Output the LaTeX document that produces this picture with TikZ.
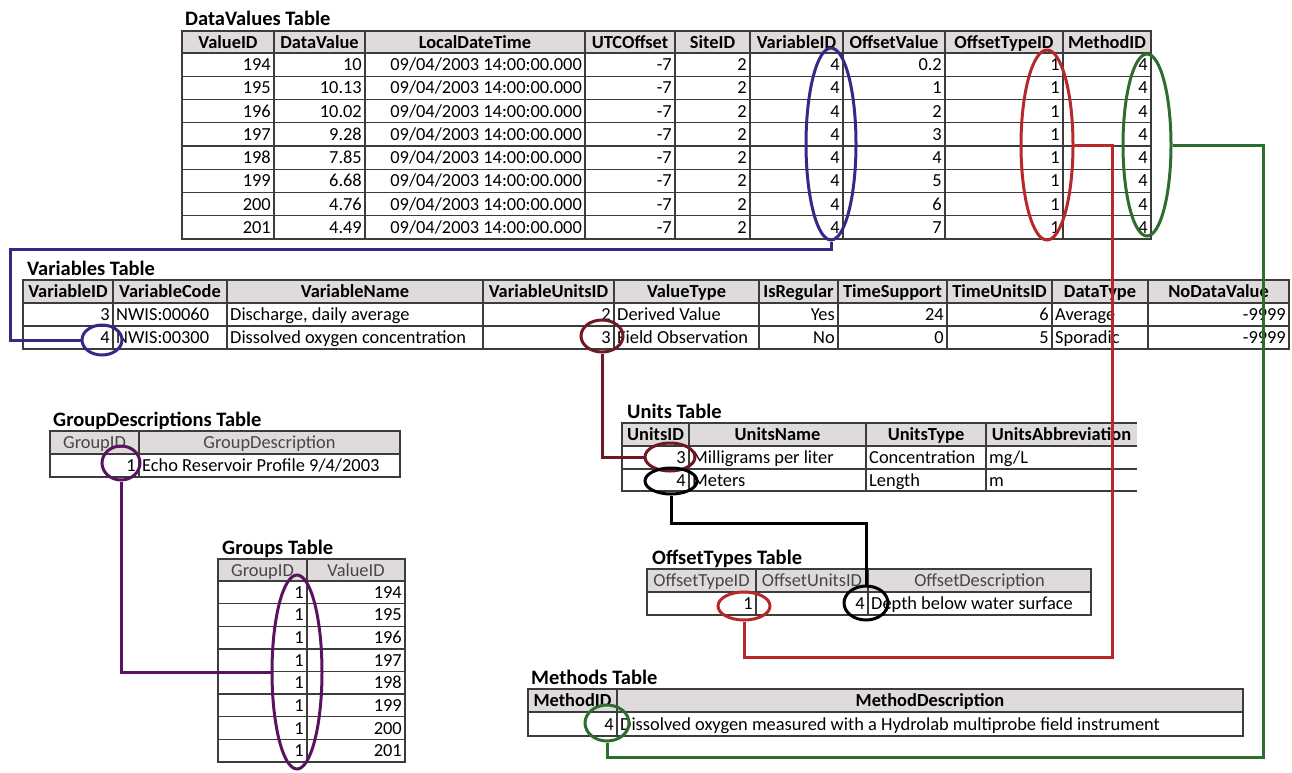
\documentclass[tikz,border=0pt]{standalone}
\usepackage{fontspec}
\setmainfont{Carlito}
\usetikzlibrary{shapes.geometric}
\definecolor{hdrfill}{RGB}{222,219,218}
\definecolor{gridc}{RGB}{60,60,60}
\definecolor{hdrtxt}{RGB}{70,70,70}
\definecolor{cIndigo}{RGB}{58,38,135}
\definecolor{cMaroon}{RGB}{110,25,35}
\definecolor{cRed}{RGB}{185,40,40}
\definecolor{cGreen}{RGB}{45,110,45}
\definecolor{cPurple}{RGB}{90,20,95}
\tikzset{
 hdr/.style={fill=hdrfill},
 inner/.style={draw=gridc, line width=1.3pt},
 outer/.style={draw=gridc, line width=2pt},
 cellR/.style={anchor=base east, inner sep=0pt, font=\fontsize{18.4}{22}\selectfont},
 cellL/.style={anchor=base west, inner sep=0pt, font=\fontsize{18.4}{22}\selectfont},
 hb/.style={anchor=base, inner sep=0pt, font=\fontsize{18.4}{22}\selectfont\bfseries},
 hr/.style={anchor=base, inner sep=0pt, text=hdrtxt, font=\fontsize{18.4}{22}\selectfont},
 ttl/.style={anchor=base west, inner sep=0pt, font=\fontsize{20.5}{24}\selectfont\bfseries},
 ring/.style={draw, ellipse, line width=3pt, inner sep=0pt},
 link/.style={line width=3pt},
}
\begin{document}
\begin{tikzpicture}[x=1pt,y=-1pt]
\useasboundingbox (0,0) rectangle (1292,772);

% ---------------- DataValues table ----------------
\node[ttl] (tDV) at (185,25) {DataValues Table};
\fill[hdr] (182,31) rectangle (1151,53);
\foreach \x in {274,365,585,675,750,843,945,1063} \draw[inner] (\x,31) -- (\x,239);
\foreach \y in {53,76.25,99.5,122.75,146,169.25,192.5,215.75} \draw[inner] (182,\y) -- (1151,\y);
\draw[outer] (182,31) rectangle (1151,239);
\foreach \t/\c [count=\i] in {ValueID/228,DataValue/319.5,LocalDateTime/475,UTCOffset/630,SiteID/712.5,VariableID/796.5,OffsetValue/894,OffsetTypeID/1004,MethodID/1107}
  \node[hb] (dvh\i) at (\c,48) {\t};
\foreach \a/\b/\o [count=\i] in {194/10/0.2,195/10.13/1,196/10.02/2,197/9.28/3,198/7.85/4,199/6.68/5,200/4.76/6,201/4.49/7}{
  \pgfmathsetmacro\yb{53+23.25*(\i-0.5)+6}
  \node[cellR] (dva\i) at (271,\yb) {\a};
  \node[cellR] (dvb\i) at (362,\yb) {\b};
  \node[cellR] (dvc\i) at (582,\yb) {09/04/2003 14:00:00.000};
  \node[cellR] (dvd\i) at (672,\yb) {-7};
  \node[cellR] (dve\i) at (747,\yb) {2};
  \node[cellR] (dvf\i) at (840,\yb) {4};
  \node[cellR] (dvg\i) at (942,\yb) {\o};
  \node[cellR] (dvo\i) at (1060,\yb) {1};
  \node[cellR] (dvm\i) at (1148,\yb) {4};
}

% ---------------- Variables table ----------------
\node[ttl] (tV) at (27,275) {Variables Table};
\fill[hdr] (23,280) rectangle (1289,303);
\foreach \x in {113,227,483,614,759,838,947,1052,1148} \draw[inner] (\x,280) -- (\x,349);
\foreach \y in {303,326} \draw[inner] (23,\y) -- (1289,\y);
\draw[outer] (23,280) rectangle (1289,349);
\foreach \t/\c [count=\i] in {VariableID/68,VariableCode/170,VariableName/355,VariableUnitsID/548.5,ValueType/686.5,IsRegular/798.5,TimeSupport/892.5,TimeUnitsID/999.5,DataType/1100,NoDataValue/1218.5}
  \node[hb] (vhd\i) at (\c,297.5) {\t};
\node[cellR] (va1) at (110,320.5) {3};
\node[cellL] (vb1) at (116,320.5) {NWIS:00060};
\node[cellL] (vc1) at (230,320.5) {Discharge, daily average};
\node[cellR] (vd1) at (611,320.5) {2};
\node[cellL] (ve1) at (617,320.5) {Derived Value};
\node[cellR] (vf1) at (835,320.5) {Yes};
\node[cellR] (vg1) at (944,320.5) {24};
\node[cellR] (vh1) at (1049,320.5) {6};
\node[cellL] (vi1) at (1055,320.5) {Average};
\node[cellR] (vj1) at (1286,320.5) {-9999};
\node[cellR] (va2) at (110,343.5) {4};
\node[cellL] (vb2) at (116,343.5) {NWIS:00300};
\node[cellL] (vc2) at (230,343.5) {Dissolved oxygen concentration};
\node[cellR] (vd2) at (611,343.5) {3};
\node[cellL] (ve2) at (617,343.5) {Field Observation};
\node[cellR] (vf2) at (835,343.5) {No};
\node[cellR] (vg2) at (944,343.5) {0};
\node[cellR] (vh2) at (1049,343.5) {5};
\node[cellL] (vi2) at (1055,343.5) {Sporadic};
\node[cellR] (vj2) at (1286,343.5) {-9999};

% ---------------- GroupDescriptions table ----------------
\node[ttl] (tGD) at (53,426) {GroupDescriptions Table};
\fill[hdr] (50,431) rectangle (400,454);
\draw[inner] (139,431) -- (139,477);
\draw[inner] (50,454) -- (400,454);
\draw[outer] (50,431) rectangle (400,477);
\node[hr] (gdh1) at (94.5,448.5) {GroupID};
\node[hr] (gdh2) at (269.5,448.5) {GroupDescription};
\node[cellR] (gda) at (136,471.5) {1};
\node[cellL] (gdb) at (142,471.5) {Echo Reservoir Profile 9/4/2003};

% ---------------- Groups table ----------------
\node[ttl] (tG) at (222,554) {Groups Table};
\fill[hdr] (218,559) rectangle (405,581);
\draw[inner] (307,559) -- (307,762);
\foreach \k in {0,...,7} \draw[inner] (218,{581+22.625*\k}) -- (405,{581+22.625*\k});
\draw[outer] (218,559) rectangle (405,762);
\node[hr] (gh1) at (262.5,576) {GroupID};
\node[hr] (gh2) at (356,576) {ValueID};
\foreach \v [count=\i] in {194,195,196,197,198,199,200,201}{
  \pgfmathsetmacro\yb{581+22.625*(\i-0.5)+6}
  \node[cellR] (ga\i) at (304,\yb) {1};
  \node[cellR] (gb\i) at (402,\yb) {\v};
}

% ---------------- Units table ----------------
\node[ttl] (tU) at (627,418) {Units Table};
\fill[hdr] (622,423) rectangle (1137,446);
\foreach \x in {689,866,986} \draw[inner] (\x,423) -- (\x,491);
\foreach \y in {446,469} \draw[inner] (622,\y) -- (1137,\y);
\draw[outer] (1137,423) -- (622,423) -- (622,491) -- (1137,491);
\foreach \t/\c [count=\i] in {UnitsID/655.5,UnitsName/777.5,UnitsType/926,UnitsAbbreviation/1061.5}
  \node[hb] (uh\i) at (\c,440.5) {\t};
\node[cellR] (ua1) at (686,463.5) {3};
\node[cellL] (ub1) at (692,463.5) {Milligrams per liter};
\node[cellL] (uc1) at (869,463.5) {Concentration};
\node[cellL] (ud1) at (989,463.5) {mg/L};
\node[cellR] (ua2) at (686,486) {4};
\node[cellL] (ub2) at (692,486) {Meters};
\node[cellL] (uc2) at (869,486) {Length};
\node[cellL] (ud2) at (989,486) {m};

% ---------------- OffsetTypes table ----------------
\node[ttl] (tOT) at (652,564) {OffsetTypes Table};
\fill[hdr] (647,569) rectangle (1091,592);
\foreach \x in {756,868} \draw[inner] (\x,569) -- (\x,615);
\draw[inner] (647,592) -- (1091,592);
\draw[outer] (647,569) rectangle (1091,615);
\node[hr] (oth1) at (701.5,586.5) {OffsetTypeID};
\node[hr] (oth2) at (812,586.5) {OffsetUnitsID};
\node[hr] (oth3) at (979.5,586.5) {OffsetDescription};
\node[cellR] (ota) at (753,609.5) {1};
\node[cellR] (otb) at (865,609.5) {4};
\node[cellL] (otc) at (871,609.5) {Depth below water surface};

% ---------------- Methods table ----------------
\node[ttl] (tM) at (531,684) {Methods Table};
\fill[hdr] (528,689) rectangle (1243,712);
\draw[inner] (617,689) -- (617,736);
\draw[inner] (528,712) -- (1243,712);
\draw[outer] (528,689) rectangle (1243,736);
\node[hb] (mh1) at (572.5,706.5) {MethodID};
\node[hb] (mh2) at (930,706.5) {MethodDescription};
\node[cellR] (ma) at (614,730) {4};
\node[cellL] (mb) at (620,730) {Dissolved oxygen measured with a Hydrolab multiprobe field instrument};

% ---------------- rings ----------------
\node[ring, cIndigo, minimum width=50pt, minimum height=192pt] (eDVvar) at (831,144) {};
\node[ring, cRed, minimum width=52pt, minimum height=190pt] (eDVot) at (1047,145) {};
\node[ring, cGreen, minimum width=48pt, minimum height=182pt] (eDVm) at (1147,145) {};
\node[ring, cIndigo, minimum width=40pt, minimum height=30pt] (eVvar) at (102,340) {};
\node[ring, cMaroon, minimum width=42pt, minimum height=32pt] (eVunits) at (602,336) {};
\node[ring, cMaroon, minimum width=50pt, minimum height=28pt] (eU3) at (670,457) {};
\node[ring, black, minimum width=52pt, minimum height=26pt] (eU4) at (671,481) {};
\node[ring, cRed, minimum width=52pt, minimum height=28pt] (eOT1) at (744,606) {};
\node[ring, black, minimum width=44pt, minimum height=34pt] (eOT4) at (866,603) {};
\node[ring, cGreen, minimum width=44pt, minimum height=36pt] (eM) at (607,723) {};
\node[ring, cPurple, minimum width=38pt, minimum height=34pt] (eGD) at (121,463) {};
\node[ring, cPurple, minimum width=50pt, minimum height=194pt] (eG) at (297,672) {};

% ---------------- connectors ----------------
\coordinate (iA) at (10,249);
\coordinate (kA) at (866,523);
\coordinate (rA) at (1112,657);
\coordinate (gA) at (1263,757);
\draw[link, cIndigo] (eDVvar.south) |- (iA) |- (eVvar.west);
\draw[link, cMaroon] (eVunits.south) |- (eU3.west);
\draw[link, black] (eU4.south) |- (kA) -- (eOT4.north);
\draw[link, cRed] (eDVot.east) -| (rA) -| (eOT1.south);
\draw[link, cGreen] (eDVm.east) -| (gA) -| (eM.south);
\draw[link, cPurple] (eGD.south) |- (eG.west);
\end{tikzpicture}
\end{document}
